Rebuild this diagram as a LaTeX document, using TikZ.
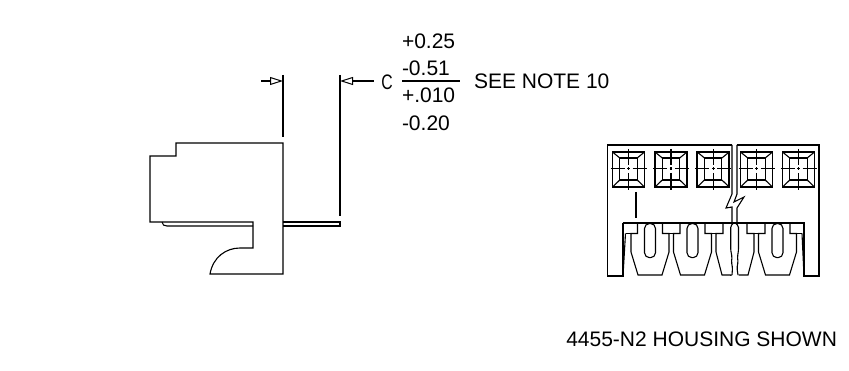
\documentclass[tikz,border=0pt]{standalone}
\usepackage{fontspec}
\setmainfont{Liberation Sans}
\usetikzlibrary{arrows.meta}
\tikzset{
  ln/.style={draw=black,line width=1.1pt,line join=miter},
  thickln/.style={draw=black,line width=1.7pt},
  dimarrow/.style={ln,-{Triangle[open,length=13pt,width=8pt,line width=1pt]}},
  txt/.style={inner sep=0pt,outer sep=0pt,font=\fontsize{21}{24}\selectfont,anchor=base west}
}
\begin{document}
\begin{tikzpicture}[x=1pt,y=-1pt]
\useasboundingbox (0,0) rectangle (849,371);
% side view
\draw[ln] (150,156) -- (176,156) -- (176,143) -- (283,143) -- (283,274) -- (210,274)
  .. controls (213,257) and (226,248) .. (240,248) -- (253,248) -- (253,222) -- (150,222) -- cycle;
\draw[ln] (162,222) .. controls (162.5,225) and (164,226) .. (167,226) -- (253,226);
\draw[ln] (283,222) -- (340,222) -- (340,226) -- (283,226);
% dimension lines
\coordinate (extAtop) at (283,75);
\coordinate (extAbot) at (283,137);
\coordinate (extBtop) at (340,75);
\coordinate (extBbot) at (340,216);
\coordinate (arrA) at (283,81);
\coordinate (arrAs) at (261,81);
\coordinate (arrB) at (340,81);
\coordinate (arrBs) at (373.5,81);
\draw[ln] (extAtop) -- (extAbot);
\draw[ln] (extBtop) -- (extBbot);
\draw[dimarrow] (arrAs) -- (arrA);
\draw[dimarrow] (arrBs) -- (arrB);
\node[txt,anchor=center,xscale=.75] (cee) at (387,82) {C};
% tolerance text
\node[txt] (t1) at (402,49) {+0.25};
\node[txt] (t2) at (402,75.5) {-0.51};
\node[txt] (t3) at (402,103) {+.010};
\node[txt] (t4) at (402,130.5) {-0.20};
\draw[ln] (402,81) -- (460,81);
\node[txt] (note) at (474,88.5) {SEE NOTE 10};
\node[txt,anchor=base east] (caption) at (837,346.5) {4455-N2 HOUSING SHOWN};
% front view frame
\draw[ln] (732,145) -- (607.5,145) -- (607.5,276) -- (623,276) -- (623,223);
\draw[ln] (737,145) -- (819,145) -- (819,276) -- (804,276) -- (804,223);
\draw[thickln] (622.5,223) -- (804.5,223);
% break
\draw[ln] (732,145) -- (732,194) -- (726,208) -- (732,207) -- (732,223);
\draw[ln] (737,145) -- (737,194) -- (734,202) -- (744,197) -- (737,208) -- (737,223);
\draw[ln] (636,192) -- (636,218);
% windows
\foreach \c in {628.5,671,713.2,756.5,798.5}{
  \draw[thickln,line width=1.6pt] (\c-16,152) rectangle (\c+16,187);
  \draw[ln] (\c-8.7,158) rectangle (\c+8.7,180);
  \draw[ln] (\c-16,152) -- (\c-8.7,158) (\c+16,152) -- (\c+8.7,158)
            (\c-16,187) -- (\c-8.7,180) (\c+16,187) -- (\c+8.7,180);
  \draw[ln] (\c,149) -- (\c,165) (\c,167.5) -- (\c,170) (\c,173) -- (\c,190);
  \draw[ln] (\c-18,168.7) -- (\c-4,168.7) (\c-1.3,168.7) -- (\c+1.3,168.7) (\c+4,168.7) -- (\c+18,168.7);
}
% teeth
\foreach \c in {650,692.5,777.5}{
  \draw[ln] (\c-12.5,223) -- (\c-12.5,233.5) -- (\c-19,233.5) -- (\c-19,252) -- (\c-12,275) -- (\c+12,275) -- (\c+19,252) -- (\c+19,233.5) -- (\c+12.5,233.5) -- (\c+12.5,223);
  \draw[ln,rounded corners=5pt] (\c-5.5,223.5) rectangle (\c+5.5,257.7);
}
% broken tooth
\draw[ln] (723,223) -- (723,233.5) -- (716,233.5) -- (716,252) -- (722,275) -- (731,275) -- (731,276);
\draw[ln] (747,223) -- (747,233.5) -- (754,233.5) -- (754,252) -- (748,275) -- (738.5,275);
\draw[ln,rounded corners=1.5pt] (733,223.5) -- (730.7,226) -- (730.7,250) -- (732,257) -- (731.5,262) -- (732.5,268) -- (732,275);
\draw[ln,rounded corners=1.5pt] (736,223.5) -- (738.5,226) -- (738.5,250) -- (737.5,257) -- (738,262) -- (737,268) -- (738,275);
% shoulders between teeth and ends
\draw[ln] (625.5,233.5) -- (631,233.5) (669,233.5) -- (673.5,233.5) (711.5,233.5) -- (716,233.5) (754,233.5) -- (758.5,233.5) (796.5,233.5) -- (802,233.5);
\draw[ln] (625.5,233.5) -- (623,276);
\draw[ln] (802,233.5) -- (804,276);
\end{tikzpicture}
\end{document}
